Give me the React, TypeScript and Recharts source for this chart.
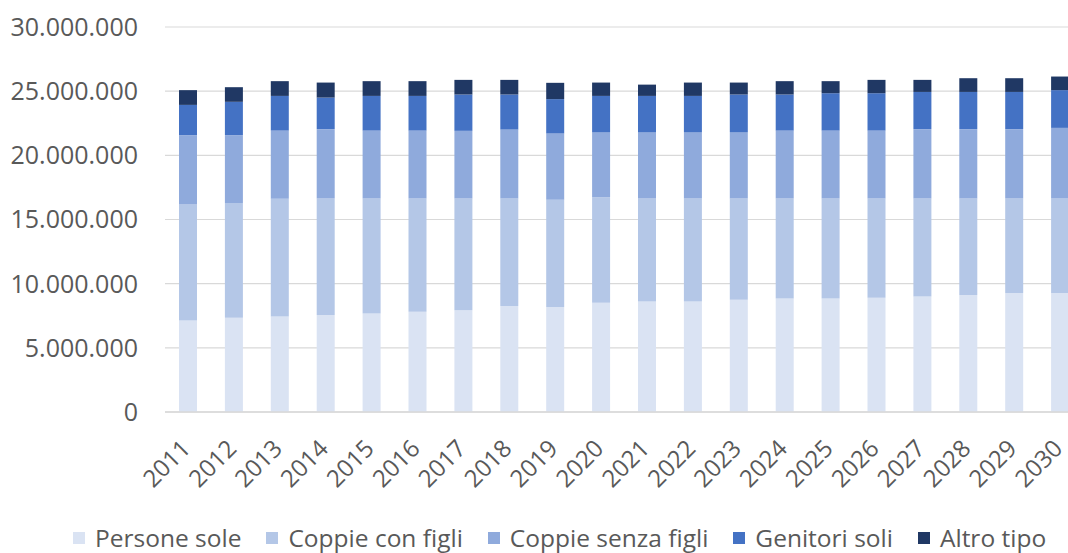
import { BarChart, Bar, XAxis, YAxis, CartesianGrid, Legend } from 'recharts';

const years = [
  '2011', '2012', '2013', '2014', '2015', '2016', '2017', '2018', '2019', '2020',
  '2021', '2022', '2023', '2024', '2025', '2026', '2027', '2028', '2029', '2030',
];

const personeSole = [
  7130000, 7340000, 7450000, 7550000, 7680000, 7810000, 7920000, 8260000, 8180000, 8510000,
  8610000, 8610000, 8750000, 8850000, 8850000, 8900000, 9000000, 9110000, 9270000, 9270000,
];
const coppieConFigli = [
  9040000, 8940000, 9160000, 9090000, 8960000, 8830000, 8720000, 8380000, 8350000, 8230000,
  8030000, 8030000, 7890000, 7790000, 7790000, 7740000, 7640000, 7530000, 7370000, 7370000,
];
const coppieSenzaFigli = [
  5400000, 5290000, 5320000, 5400000, 5290000, 5290000, 5270000, 5370000, 5170000, 5070000,
  5170000, 5170000, 5170000, 5290000, 5290000, 5290000, 5400000, 5400000, 5400000, 5500000,
];
const genitoriSoli = [
  2360000, 2600000, 2700000, 2460000, 2700000, 2700000, 2830000, 2730000, 2680000, 2820000,
  2820000, 2820000, 2930000, 2810000, 2910000, 2910000, 2900000, 2900000, 2900000, 2940000,
];
const altroTipo = [
  1150000, 1140000, 1150000, 1170000, 1150000, 1150000, 1140000, 1140000, 1270000, 1040000,
  880000, 1040000, 930000, 1040000, 940000, 1040000, 940000, 1070000, 1070000, 1060000,
];

const yTicks = [0, 5000000, 10000000, 15000000, 20000000, 25000000, 30000000];

const series = [
  { key: 'personeSole', name: 'Persone sole', color: '#DAE3F3' },
  { key: 'coppieConFigli', name: 'Coppie con figli', color: '#B4C7E7' },
  { key: 'coppieSenzaFigli', name: 'Coppie senza figli', color: '#8FAADC' },
  { key: 'genitoriSoli', name: 'Genitori soli', color: '#4472C4' },
  { key: 'altroTipo', name: 'Altro tipo', color: '#203864' },
];

const data = years.map((year, i) => ({
  year,
  personeSole: personeSole[i],
  coppieConFigli: coppieConFigli[i],
  coppieSenzaFigli: coppieSenzaFigli[i],
  genitoriSoli: genitoriSoli[i],
  altroTipo: altroTipo[i],
}));

const FONT = '"Open Sans", sans-serif';
const TEXT = '#595959';

const formatNum = (v: number) => String(v).replace(/\B(?=(\d{3})+(?!\d))/g, '.');

function YearTick({ x, y, payload }: any) {
  const ex = x + 4;
  const ey = y + 38;
  return (
    <text
      x={ex}
      y={ey}
      textAnchor="end"
      fill={TEXT}
      fontSize={24}
      fontFamily={FONT}
      transform={`rotate(-45, ${ex}, ${ey})`}
    >
      {payload.value}
    </text>
  );
}

function LegendBox() {
  return (
    <div
      style={{
        display: 'flex',
        alignItems: 'center',
        height: 30,
        paddingLeft: 73,
        fontFamily: FONT,
        fontSize: 24.5,
        color: TEXT,
        whiteSpace: 'nowrap',
      }}
    >
      {series.map((s) => (
        <div key={s.key} style={{ display: 'flex', alignItems: 'center', marginRight: 25 }}>
          <span style={{ width: 12, height: 12, background: s.color, marginRight: 10 }} />
          <span style={{ lineHeight: '30px' }}>{s.name}</span>
        </div>
      ))}
    </div>
  );
}

export default function App() {
  return (
    <div
      style={{
        position: 'absolute',
        left: 0,
        top: 0,
        width: 1068,
        height: 553,
        overflow: 'hidden',
        background: '#fff',
      }}
    >
      <BarChart
        width={1083}
        height={553}
        data={data}
        margin={{ top: 27, right: 0, left: 0, bottom: 0 }}
        barSize={18}
      >
        <CartesianGrid vertical={false} stroke="#d9d9d9" strokeWidth={1.2} />
        <XAxis
          dataKey="year"
          height={111}
          interval={0}
          tickLine={false}
          tickSize={0}
          tickMargin={0}
          axisLine={{ stroke: '#d9d9d9', strokeWidth: 1.5 }}
          tick={<YearTick />}
        />
        <YAxis
          width={165}
          domain={[0, 30000000]}
          ticks={yTicks}
          tickFormatter={formatNum}
          axisLine={false}
          tickLine={false}
          tickSize={0}
          tickMargin={27}
          tick={{ fill: TEXT, fontSize: 25, fontFamily: FONT }}
        />
        <Legend verticalAlign="bottom" content={<LegendBox />} />
        {series.map((s) => (
          <Bar
            key={s.key}
            dataKey={s.key}
            name={s.name}
            stackId="a"
            fill={s.color}
            isAnimationActive={false}
          />
        ))}
      </BarChart>
    </div>
  );
}
